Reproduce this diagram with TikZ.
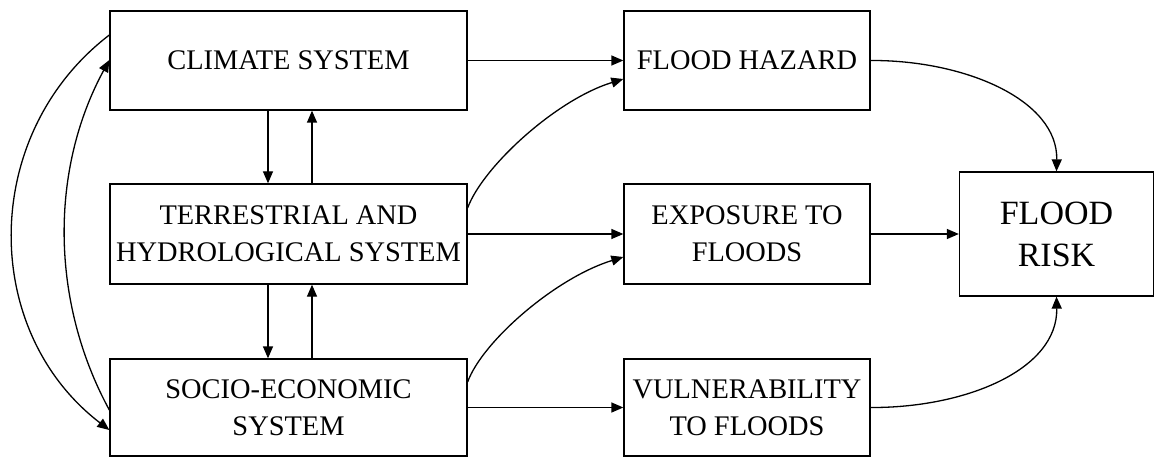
\documentclass[tikz,border=0pt]{standalone}
\usepackage{fontspec}
\setmainfont{Liberation Serif}
\usetikzlibrary{arrows.meta}
\begin{document}
\begin{tikzpicture}[x=1pt,y=-1pt,
  box/.style={draw=black,line width=1.3pt,inner sep=0pt,align=center,
    font=\fontsize{28.4}{37}\selectfont},
  conn/.style={draw=black,line width=1.3pt,-{Triangle[length=12pt,width=10pt]}}]
\useasboundingbox (0,0) rectangle (1154,457);
\node[box,minimum width=357pt,minimum height=99pt] (climate) at (288.5,60.5) {CLIMATE SYSTEM};
\node[box,minimum width=357pt,minimum height=100pt] (terr) at (288.5,234) {TERRESTRIAL AND\\HYDROLOGICAL SYSTEM};
\node[box,minimum width=357pt,minimum height=97pt] (socio) at (288.5,407.5) {SOCIO-ECONOMIC\\SYSTEM};
\node[box,minimum width=246pt,minimum height=99pt] (hazard) at (747,60.5) {FLOOD HAZARD};
\node[box,minimum width=246pt,minimum height=100pt] (expo) at (747,234) {EXPOSURE TO\\FLOODS};
\node[box,minimum width=246pt,minimum height=97pt] (vuln) at (747,407.5) {VULNERABILITY\\TO FLOODS};
\node[box,minimum width=194pt,minimum height=124pt,font=\fontsize{34}{42}\selectfont] (risk) at (1056.5,234) {FLOOD\\RISK};
% straight arrows
\draw[conn] (climate.east) -- (hazard.west);
\draw[conn] (terr.east) -- (expo.west);
\draw[conn] (socio.east) -- (vuln.west);
\draw[conn] (expo.east) -- (risk.west);
\draw[conn] (268,0 |- climate.south) -- (268,0 |- terr.north);
\draw[conn] (312,0 |- terr.north) -- (312,0 |- climate.south);
\draw[conn] (268,0 |- terr.south) -- (268,0 |- socio.north);
\draw[conn] (312,0 |- socio.north) -- (312,0 |- terr.south);
% curved arrows
\coordinate (t1) at (terr.north east |- 0,208);
\coordinate (h1) at (hazard.north west |- 0,79);
\draw[conn] (t1) .. controls (482,168) and (555,100) .. (h1);
\coordinate (s1) at (socio.north east |- 0,382);
\coordinate (e1) at (expo.north west |- 0,257);
\draw[conn] (s1) .. controls (482,342) and (555,278) .. (e1);
\draw[conn] (hazard.east) .. controls (965,60) and (1058,100) .. (risk.north);
\draw[conn] (vuln.east) .. controls (965,408) and (1058,370) .. (risk.south);
\coordinate (c1) at (climate.north west |- 0,35);
\coordinate (c2) at (climate.north west |- 0,60);
\coordinate (so1) at (socio.north west |- 0,410);
\coordinate (so2) at (socio.north west |- 0,430);
\draw[conn] (c1) .. controls (-20,134) and (-20,331) .. (so2);
\draw[conn] (so1) .. controls (50,301) and (50,169) .. (c2);
\end{tikzpicture}
\end{document}
